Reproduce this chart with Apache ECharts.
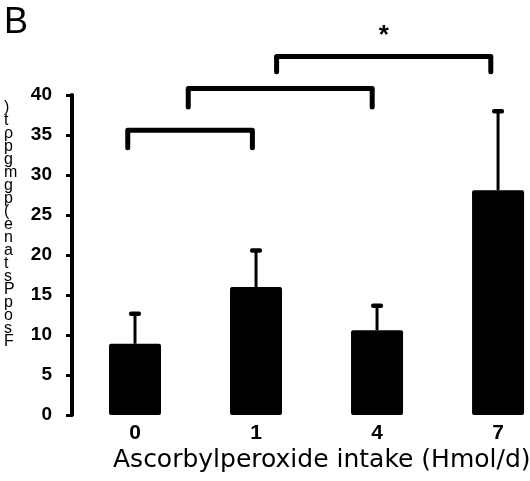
<!DOCTYPE html>
<html>
<head>
<meta charset="utf-8">
<script src="https://cdn.jsdelivr.net/npm/echarts/dist/echarts.min.js"></script>
<style>html,body{margin:0;padding:0;background:#fff}#c{width:530px;height:481px}</style>
</head>
<body>
<div id="c"></div>
<script>
// ---- data ----
const categories = ['0', '1', '4', '7'];
const means = [8.9, 16.0, 10.6, 28.1];
const errTops = [12.7, 20.6, 13.7, 38.0];
const yTicks = [0, 5, 10, 15, 20, 25, 30, 35, 40];
const bracketFrom = [0, 0, 1];
const bracketTo = [1, 2, 3];
const bracketLevel = [35.6, 40.8, 44.8];
const bracketLegEnd = [33.4, 38.5, 42.9];
const bracketMarks = ['', '', '*'];
const yLabelChars = [')', 't', 'ρ', 'p', 'g', 'm', 'g', 'p', '(', 'e', 'n', 'a', 't', 's', 'P', 'p', 'o', 's', 'F'];
const xTitle = 'Ascorbylperoxide intake (Hmol/d)';
const panelLetter = 'B';

// ---- layout constants ----
const fromOffset = [-0.06, 0.44, 0.17];
const toOffset = [-0.03, -0.04, -0.06];
const catIdx = categories.map((c, i) => i);

const chart = echarts.init(document.getElementById('c'), null, {renderer: 'canvas'});

const option = {
  animation: false,
  backgroundColor: '#fff',
  grid: {left: 74.5, top: 95, right: 0, height: 320, containLabel: false},
  xAxis: {
    type: 'value',
    min: -0.5,
    max: 3.264,
    splitLine: {show: false},
    axisLine: {show: false, onZero: false},
    axisTick: {show: false},
    axisLabel: {
      customValues: catIdx,
      formatter: v => categories[Math.round(v)],
      color: '#000', fontFamily: 'Liberation Sans', fontWeight: 'bold', fontSize: 21, margin: 8
    }
  },
  yAxis: {
    type: 'value',
    min: yTicks[0],
    max: yTicks[yTicks.length - 1],
    interval: yTicks[1] - yTicks[0],
    offset: 2.5,
    splitLine: {show: false},
    axisLine: {show: true, onZero: false, lineStyle: {color: '#000', width: 4}},
    axisTick: {show: true, length: 6, lineStyle: {color: '#000', width: 3}},
    axisLabel: {color: '#000', fontFamily: 'Liberation Sans', fontWeight: 'bold', fontSize: 19, margin: 20}
  },
  series: [
    {
      type: 'bar',
      data: means.map((m, i) => [catIdx[i], m]),
      barWidth: 52,
      itemStyle: {color: '#000', borderRadius: 2}
    },
    {
      type: 'custom',
      data: means.map((m, i) => [catIdx[i], m, errTops[i]]),
      z: 1,
      renderItem: function (params, api) {
        const base = api.coord([api.value(0), api.value(1)]);
        const top = api.coord([api.value(0), api.value(2)]);
        return {
          type: 'group',
          children: [
            {type: 'line', shape: {x1: base[0], y1: base[1], x2: top[0], y2: top[1]}, style: {stroke: '#000', lineWidth: 3}},
            {type: 'rect', shape: {x: top[0] - 6, y: top[1] - 2, width: 12, height: 4.5, r: 2}, style: {fill: '#000'}}
          ]
        };
      }
    },
    {
      type: 'custom',
      data: bracketFrom.map((f, i) => [f, bracketTo[i], bracketLevel[i], bracketLegEnd[i], i]),
      clip: false,
      renderItem: function (params, api) {
        const k = api.value(4);
        const a = api.coord([api.value(0) + fromOffset[k], api.value(2)]);
        const b = api.coord([api.value(1) + toOffset[k], api.value(2)]);
        const legY = api.coord([api.value(0), api.value(3)])[1];
        const x1 = a[0];
        const x2 = b[0];
        const y = a[1];
        const children = [{
          type: 'polyline',
          shape: {points: [[x1, legY], [x1, y], [x2, y], [x2, legY]]},
          style: {stroke: '#000', lineWidth: 5, fill: null, lineJoin: 'round', lineCap: 'round'}
        }];
        if (bracketMarks[k]) {
          children.push({
            type: 'text',
            style: {text: bracketMarks[k], x: (x1 + x2) / 2, y: y - 8, align: 'center', verticalAlign: 'bottom',
              fill: '#000', font: 'bold 26px "Liberation Sans"'}
          });
        }
        return {type: 'group', children: children};
      }
    }
  ],
  graphic: [
    {type: 'text', left: 4, top: 5, style: {text: panelLetter, fill: '#000', font: '36px "Liberation Sans"'}},
    {type: 'text', left: 113, top: 448, style: {text: xTitle, fill: '#000', font: '25px "DejaVu Sans"'}},
    {type: 'text', left: 4, top: 100, style: {text: yLabelChars.join('\n'), fill: '#000', align: 'center',
      font: '16px "Liberation Sans"', lineHeight: 13}}
  ]
};
chart.setOption(option);
</script>
</body>
</html>
